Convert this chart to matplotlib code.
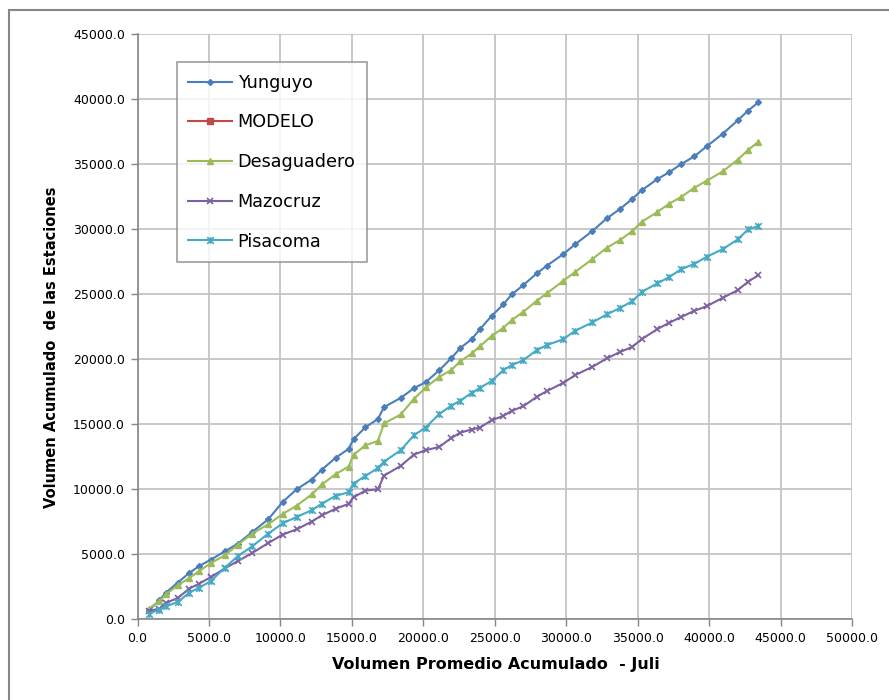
import matplotlib
matplotlib.use('Agg')

import matplotlib.pyplot as plt
import matplotlib.patches as patches
from matplotlib.path import Path
import numpy as np

# cumulative average volume at Juli (shared x for all stations)
juli = [805, 1526, 1994, 2813, 3625, 4325, 5144, 6123, 7033, 8034,
        9153, 10161, 11141, 12191, 12911, 13856, 14766, 15116, 15955, 16830,
        17250, 18419, 19349, 20168, 21120, 21939, 22603, 23387, 23968, 24787,
        25599, 26186, 26998, 27936, 28635, 29797, 30616, 31826, 32834, 33786,
        34626, 35284, 36375, 37194, 38020, 38965, 39833, 40953, 42003, 42724,
        43444]

yunguyo = [692, 1462, 2054, 2823, 3561, 4100, 4592, 5231, 5823, 6715,
           7692, 9023, 10000, 10746, 11515, 12407, 13100, 13846, 14769, 15400,
           16307, 17023, 17769, 18230, 19153, 20053, 20869, 21538, 22307, 23330,
           24207, 24976, 25692, 26592, 27177, 28077, 28823, 29846, 30823, 31561,
           32330, 32977, 33846, 34361, 34977, 35592, 36361, 37330, 38361, 39100,
           39746]

modelo = []  # listed in the legend, no visible points

desaguadero = [823, 1385, 1923, 2615, 3176, 3715, 4331, 4923, 5746, 6592,
               7308, 8100, 8740, 9600, 10370, 11154, 11740, 12640, 13384, 13715,
               15054, 15746, 16946, 17823, 18638, 19153, 19850, 20438, 20999, 21792,
               22407, 22999, 23638, 24484, 25054, 26023, 26692, 27692, 28561, 29176,
               29846, 30561, 31307, 31946, 32450, 33177, 33715, 34438, 35330, 36076,
               36715]

mazocruz = [638, 823, 1254, 1638, 2361, 2746, 3254, 3923, 4485, 5100,
            5869, 6515, 6920, 7510, 8000, 8500, 8870, 9380, 9900, 9990,
            11050, 11792, 12669, 13000, 13254, 13923, 14361, 14592, 14746, 15307,
            15638, 16023, 16384, 17100, 17538, 18177, 18769, 19408, 20053, 20561,
            20946, 21538, 22307, 22792, 23230, 23715, 24076, 24715, 25307, 25946,
            26461]

pisacoma = [438, 746, 1000, 1331, 2054, 2438, 2946, 3977, 4869, 5615,
            6592, 7380, 7869, 8384, 8900, 9484, 9770, 10438, 11023, 11638,
            12120, 13000, 14154, 14746, 15790, 16407, 16820, 17408, 17792, 18330,
            19153, 19538, 19923, 20692, 21076, 21538, 22177, 22823, 23438, 23946,
            24461, 25177, 25823, 26300, 26900, 27331, 27869, 28461, 29207, 29976,
            30230]

# Excel style "star" marker: an X with a vertical bar
star = Path([(-1, -1), (1, 1), (-1, 1), (1, -1), (0, -1), (0, 1)],
            [Path.MOVETO, Path.LINETO, Path.MOVETO, Path.LINETO, Path.MOVETO, Path.LINETO])

plt.rcParams['font.family'] = ['DejaVu Sans']

fig = plt.figure(figsize=(8.89, 7.0), dpi=100)
ax = fig.add_axes([137.5 / 889, 1 - 619.3 / 700, (852 - 137.5) / 889, (619.3 - 34) / 700])

ax.plot(juli, yunguyo, color='#4A7EBB', lw=1.5, marker='D', ms=3, label='Yunguyo', zorder=4)
ax.plot(juli[:len(modelo)], modelo, color='#BE4B48', lw=1.5, marker='s', ms=4, label='MODELO', zorder=4)
ax.plot(juli, desaguadero, color='#9BBB59', lw=1.5, marker='^', ms=3.8, label='Desaguadero', zorder=4)
ax.plot(juli, mazocruz, color='#7D60A0', lw=1.5, marker='x', ms=4.3, mew=1.2, label='Mazocruz', zorder=4)
ax.plot(juli, pisacoma, color='#46AAC5', lw=1.5, marker=star, ms=4.8, mew=1.2, label='Pisacoma', zorder=4)

ax.set_xlim(0, 50000)
ax.set_ylim(0, 45000)
ax.set_xticks(np.arange(0, 50001, 5000))
ax.set_yticks(np.arange(0, 45001, 5000))
ax.xaxis.set_major_formatter(matplotlib.ticker.FormatStrFormatter('%.1f'))
ax.yaxis.set_major_formatter(matplotlib.ticker.FormatStrFormatter('%.1f'))
ax.tick_params(labelsize=9, color='#868686', length=5, width=1, direction='out', pad=4)

ax.grid(True, color='#C4C4C4', lw=1.3)
ax.set_axisbelow(True)
for side in ['top', 'right']:
    ax.spines[side].set_visible(False)
for side in ['left', 'bottom']:
    ax.spines[side].set_color('#868686')
    ax.spines[side].set_linewidth(1.2)

fig.text(496 / 889, 1 - 665 / 700, 'Volumen Promedio Acumulado  - Juli',
         ha='center', va='center', fontsize=11.5, fontweight='bold')
fig.text(52 / 889, 1 - 347 / 700, 'Volumen Acumulado  de las Estaciones',
         ha='center', va='center', rotation=90, fontsize=10.5, fontweight='bold')

leg = ax.legend(loc='upper left', bbox_to_anchor=(176.7 / 889, 1 - 62.3 / 700),
                bbox_transform=fig.transFigure, fontsize=12.7, frameon=True,
                fancybox=False, handlelength=2.5, labelspacing=1.23,
                borderpad=0.65, handletextpad=0.3, borderaxespad=0)
leg.get_frame().set_edgecolor('#868686')
leg.get_frame().set_linewidth(1.2)

# chart area border
border = patches.Rectangle((9 / 889, -0.1), 2, 1.1 - 10 / 700, transform=fig.transFigure,
                           fill=False, edgecolor='#878787', lw=1.5)
fig.patches.append(border)

fig.savefig('out.png', dpi=100)
